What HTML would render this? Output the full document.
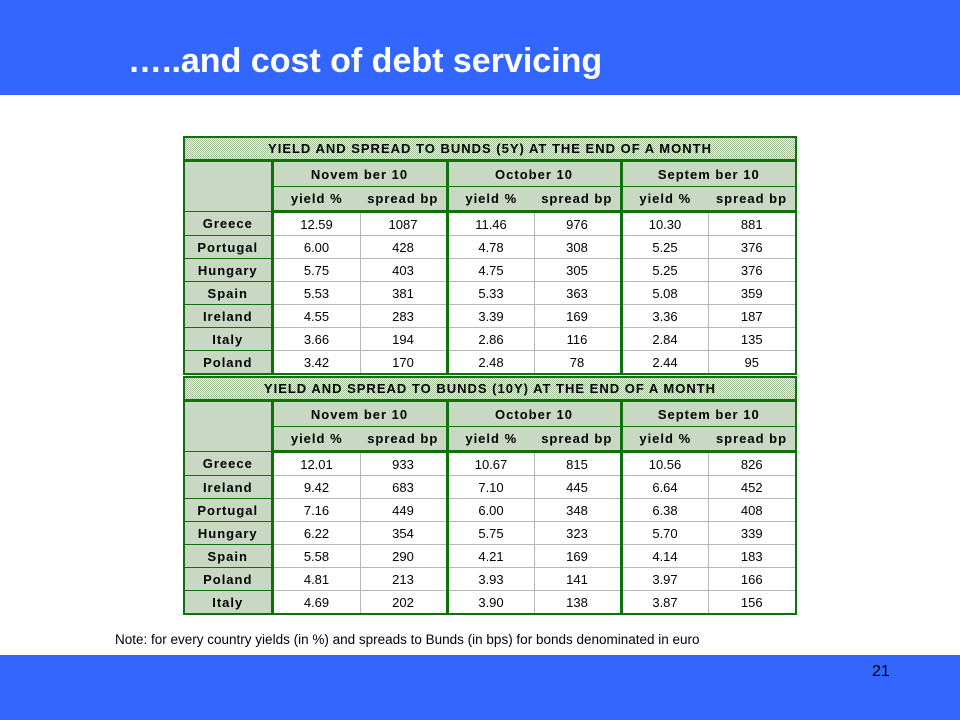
<!DOCTYPE html>
<html><head><meta charset="utf-8">
<style>
body{margin:0;width:960px;height:720px;position:relative;background:#fff;font-family:"Liberation Sans",sans-serif;overflow:hidden}
#hdr{position:absolute;left:0;top:0;width:960px;height:95px;background:#3366ff}
#title{position:absolute;left:128px;top:42px;color:#fff;font-weight:bold;font-size:34px;white-space:nowrap}
#ftr{position:absolute;left:0;top:655px;width:960px;height:65px;background:#3366ff}
#pg{position:absolute;left:872px;top:663px;font-size:16px;color:#000}
#note{position:absolute;left:115px;top:632px;font-size:13.5px;color:#000;white-space:nowrap}
table{position:absolute;left:183px;border-collapse:collapse;table-layout:fixed;border:2px solid #107010;font-size:13px}
td{padding:0;text-align:center;border:1px solid #b8b8b8;height:22px;color:#000;overflow:hidden;white-space:nowrap}
.pat{background-color:#d0dccb;background-image:repeating-conic-gradient(#9dbb95 0 25%,#f4f6f0 0 50%);background-size:2px 2px;font-weight:bold;letter-spacing:1px;border-color:#107010}
.g{border-left:3px solid #107010}
.tt td{border-bottom:3px solid #107010;height:21px}
.hb td{border-top:none;border-bottom:none}
.sb td{border-bottom:3px solid #107010}
.lab{border-right:3px solid #107010;border-color:#107010}
</style></head><body>
<div id="hdr"></div>
<div id="title">…..and cost of debt servicing</div>
<div id="t1"></div>
<div id="t2"></div>
<div id="note">Note: for every country yields (in %) and spreads to Bunds (in bps) for bonds denominated in euro</div>
<div id="ftr"></div>
<div id="pg">21</div>
<script>
const months = ["Novem ber 10","October 10","Septem ber 10"];
const countries5 = ["Greece","Portugal","Hungary","Spain","Ireland","Italy","Poland"];
const yields5 = [["12.59","6.00","5.75","5.53","4.55","3.66","3.42"],["11.46","4.78","4.75","5.33","3.39","2.86","2.48"],["10.30","5.25","5.25","5.08","3.36","2.84","2.44"]];
const spreads5 = [[1087,428,403,381,283,194,170],[976,308,305,363,169,116,78],[881,376,376,359,187,135,95]];
const countries10 = ["Greece","Ireland","Portugal","Hungary","Spain","Poland","Italy"];
const yields10 = [["12.01","9.42","7.16","6.22","5.58","4.81","4.69"],["10.67","7.10","6.00","5.75","4.21","3.93","3.90"],["10.56","6.64","6.38","5.70","4.14","3.97","3.87"]];
const spreads10 = [[933,683,449,354,290,213,202],[815,445,348,323,169,141,138],[826,452,408,339,183,166,156]];

function build(top, title, countries, ys, ss, nm){
  const t=document.createElement('table');
  
  
  t.style.top=top+'px';
  const widths=[88,88,87,87,87,87,88];
  let h='<colgroup>'+widths.map(w=>'<col style="width:'+w+'px">').join('')+'</colgroup>';
  h+='<tr class="tt"><td class="pat" colspan="7">'+title+'</td></tr>';
  h+='<tr class="hb"><td class="pat lab" rowspan="2"></td>';
  months.forEach((m,i)=>{h+='<td class="pat'+(i?' g':'')+'" colspan="2" style="height:24px">'+m+'</td>';});
  h+='</tr><tr class="sb">';
  months.forEach((m,i)=>{h+='<td class="pat'+(i?' g':'')+'" style="border-right:none;height:23px">yield %</td><td class="pat" style="border-left:none">spread bp</td>';});
  h+='</tr>';
  countries.forEach((c,r)=>{
    h+='<tr><td class="pat lab">'+c+'</td>';
    for(let k=0;k<3;k++){
      h+='<td class="'+(k?'g':'')+'">'+ys[k][r]+'</td><td>'+ss[k][r]+'</td>';
    }
    h+='</tr>';
  });
  t.innerHTML=h;
  document.body.appendChild(t);
}
build(136,"YIELD AND SPREAD TO BUNDS (5Y) AT THE END OF A MONTH",countries5,yields5,spreads5,"table-5y");
build(376,"YIELD AND SPREAD TO BUNDS (10Y) AT THE END OF A MONTH",countries10,yields10,spreads10,"table-10y");
</script>
</body></html>
